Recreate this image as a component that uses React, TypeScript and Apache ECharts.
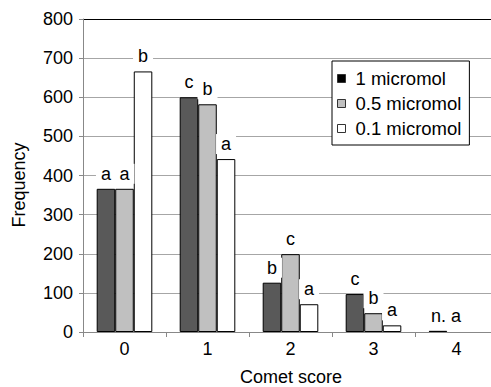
import React, { useEffect, useRef } from "react";
import * as echarts from "echarts";

const categories = ["0", "1", "2", "3", "4"];
const seriesNames = ["1 micromol", "0.5 micromol", "0.1 micromol"];
const values1 = [366, 600, 126, 97, 3];
const values05 = [366, 582, 199, 48, null];
const values01 = [666, 442, 71, 17, null];
const letters1 = ["a", "c", "b", "c", "n. a"];
const letters05 = ["a", "b", "c", "b", ""];
const letters01 = ["b", "a", "a", "a", ""];
const yTicks = [0, 100, 200, 300, 400, 500, 600, 700, 800];

const FONT = "'Liberation Sans', Arial, sans-serif";

export default function App() {
  const ref = useRef<HTMLDivElement>(null);
  useEffect(() => {
    if (!ref.current) return;
    const chart = echarts.init(ref.current, undefined, { renderer: "svg" });
    const colors = ["#595959", "#c0c0c0", "#ffffff"];
    const legendColors = ["#000000", "#c0c0c0", "#ffffff"];
    const vals = [values1, values05, values01];
    const lets = [letters1, letters05, letters01];
    const series = seriesNames.map((name, si) => ({
      name,
      type: "bar",
      barGap: "0%",
      barCategoryGap: "33%",
      itemStyle: { color: colors[si], borderColor: "#000", borderWidth: 1 },
      label: {
        show: true,
        position: "top",
        distance: 5,
        fontFamily: FONT,
        fontSize: 18,
        color: "#000",
        backgroundColor: "#fff",
        padding: [1, 5],
        formatter: (p: any) => lets[si][p.dataIndex],
      },
      data: vals[si].map((v, i) =>
        v === null
          ? "-"
          : lets[si][i] === "n. a"
          ? { value: v, label: { offset: [8, 0] } }
          : v
      ),
    }));
    const gridColors = yTicks.map((t) => (t === 800 ? "#000000" : "#a6a6a6"));
    chart.setOption({
      animation: false,
      backgroundColor: "#fff",
      textStyle: { fontFamily: FONT },
      grid: {
        left: 83,
        top: 19,
        bottom: 55,
        right: -7,
        containLabel: false,
        outerBoundsMode: "none",
      },
      legend: {
        orient: "vertical",
        left: 332,
        top: 61,
        padding: [8, 8, 7, 5],
        itemGap: 6,
        itemWidth: 8,
        itemHeight: 8,
        icon: "rect",
        backgroundColor: "#fff",
        borderColor: "#000",
        borderWidth: 1,
        textStyle: { fontFamily: FONT, fontSize: 18.5, color: "#000", padding: [0, 0, 0, 5] },
        data: seriesNames.map((n, i) => ({
          name: n,
          itemStyle: { color: legendColors[i], borderColor: "#333", borderWidth: 1 },
        })),
      },
      xAxis: {
        type: "category",
        data: categories,
        axisLine: { lineStyle: { color: "#888", width: 1 } },
        axisTick: { show: true, length: 5, lineStyle: { color: "#888" } },
        axisLabel: { fontFamily: FONT, fontSize: 18, color: "#000", margin: 8 },
      },
      yAxis: {
        type: "value",
        min: 0,
        max: 800,
        interval: 100,
        axisLine: { show: true, lineStyle: { color: "#888", width: 1 } },
        axisTick: { show: true, length: 4, lineStyle: { color: "#888" } },
        axisLabel: { fontFamily: FONT, fontSize: 18, color: "#000", margin: 10 },
        splitLine: { show: true, lineStyle: { color: gridColors, width: 1 } },
      },
      graphic: [
        {
          type: "text",
          x: 19,
          y: 185,
          rotation: Math.PI / 2,
          style: {
            text: "Frequency",
            fontFamily: FONT,
            fontSize: 18,
            fill: "#000",
            textAlign: "center",
            textVerticalAlign: "middle",
          },
        },
        {
          type: "text",
          x: 291,
          y: 377,
          style: {
            text: "Comet score",
            fontFamily: FONT,
            fontSize: 18,
            fill: "#000",
            textAlign: "center",
            textVerticalAlign: "middle",
          },
        },
      ],
      series,
    });
    return () => chart.dispose();
  }, []);
  return (
    <div
      ref={ref}
      style={{ position: "fixed", left: 0, top: 0, width: 491, height: 387, overflow: "hidden" }}
    />
  );
}
